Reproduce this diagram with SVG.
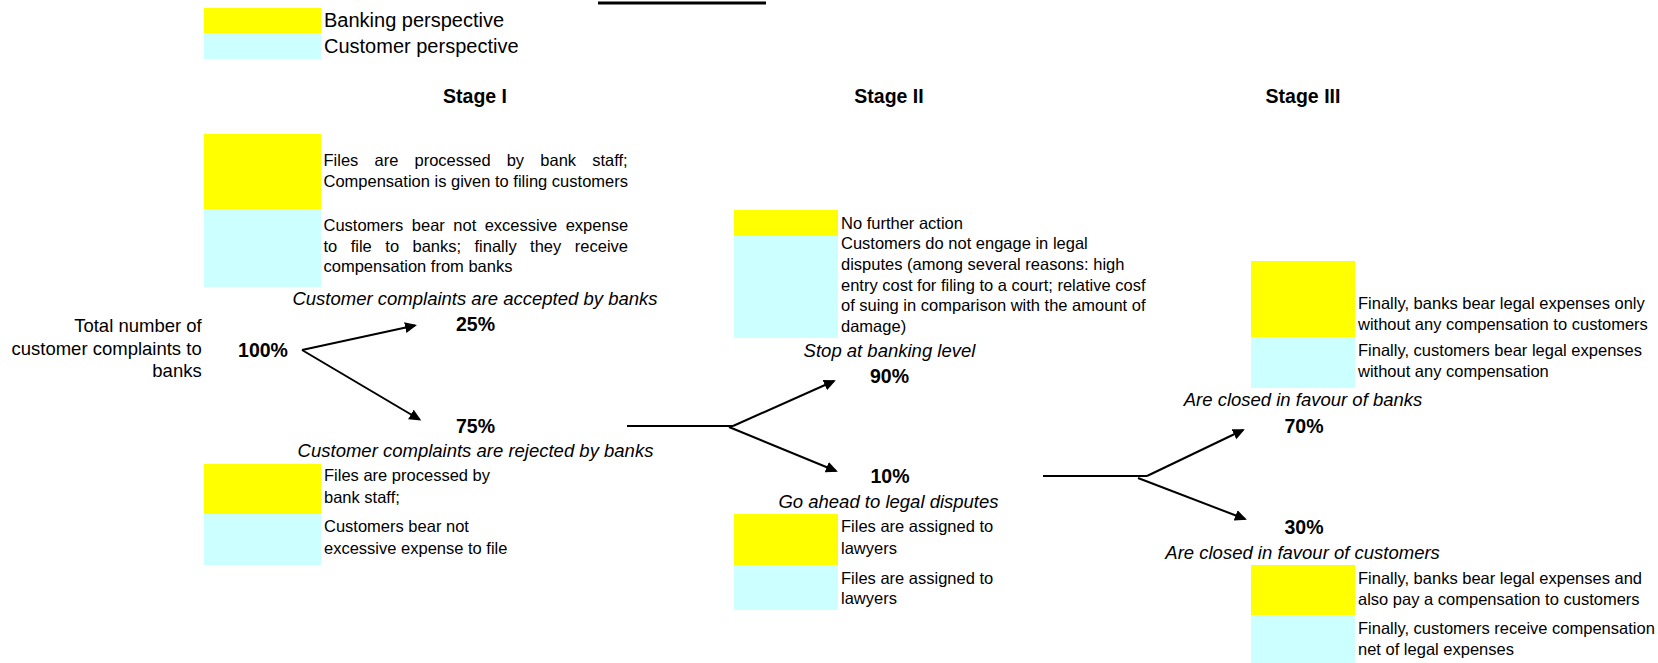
<svg xmlns="http://www.w3.org/2000/svg" width="1658" height="663" viewBox="0 0 1658 663">
<defs>
<style>
text{font-family:"Liberation Sans",Arial,sans-serif;fill:#000}
.t{font-size:16.5px}
.lg{font-size:20px}
.it{font-size:18.5px;font-style:italic;text-anchor:middle}
.b{font-size:19.5px;font-weight:bold;text-anchor:middle}
.y{fill:#FFFF00}
.c{fill:#CCFFFF}
.cn{stroke:#000;stroke-width:2;fill:none}
</style>
<marker id="ah" markerUnits="userSpaceOnUse" markerWidth="14" markerHeight="12" refX="10" refY="6" orient="auto">
<path d="M0,0.5 L12,6 L0,11.5 Z" fill="#000"/>
</marker>
</defs>
<rect width="1658" height="663" fill="#fff"/>
<line x1="598" y1="3" x2="766" y2="3" stroke="#000" stroke-width="3"/>
<g id="legend">
<rect class="y" x="204" y="8" width="117" height="25"/>
<rect class="c" x="204" y="33" width="117" height="26"/>
<text class="lg" x="324" y="27">Banking perspective</text>
<text class="lg" x="324" y="53">Customer perspective</text>
</g>
<g id="headers">
<text class="b" x="475" y="103">Stage I</text>
<text class="b" x="889" y="103">Stage II</text>
<text class="b" x="1303" y="103">Stage III</text>
</g>
<g id="connectors">
<line class="cn" x1="302" y1="350" x2="415" y2="325.5" marker-end="url(#ah)"/>
<line class="cn" x1="302" y1="350" x2="419.5" y2="419.5" marker-end="url(#ah)"/>
<line class="cn" x1="627" y1="426" x2="733" y2="426"/>
<line class="cn" x1="733" y1="426" x2="834" y2="381" marker-end="url(#ah)"/>
<line class="cn" x1="729" y1="427" x2="836" y2="471" marker-end="url(#ah)"/>
<line class="cn" x1="1043" y1="476" x2="1147" y2="476"/>
<line class="cn" x1="1147" y1="476" x2="1243" y2="430" marker-end="url(#ah)"/>
<line class="cn" x1="1138" y1="478" x2="1245" y2="519" marker-end="url(#ah)"/>
</g>
<g id="root">
<text x="201.7" y="332" style="font-size:18.5px;text-anchor:end">Total number of</text>
<text x="201.7" y="355" style="font-size:18.5px;text-anchor:end">customer complaints to</text>
<text x="201.7" y="377" style="font-size:18.5px;text-anchor:end">banks</text>
<text class="b" x="263" y="357">100%</text>
</g>
<g id="accepted">
<rect class="y" x="204" y="134" width="117" height="75"/>
<rect class="c" x="204" y="209" width="117" height="78"/>
<text class="t" y="166"><tspan x="323.5">Files</tspan><tspan x="374.5">are</tspan><tspan x="414.5">processed</tspan><tspan x="506.7">by</tspan><tspan x="540.3">bank</tspan><tspan x="592.2">staff;</tspan></text>
<text class="t" x="323.5" y="186.5">Compensation is given to filing customers</text>
<text class="t" y="231"><tspan x="323.5">Customers</tspan><tspan x="411.8">bear</tspan><tspan x="453.3">not</tspan><tspan x="484.7">excessive</tspan><tspan x="565.7">expense</tspan></text>
<text class="t" y="251.5"><tspan x="323.5">to</tspan><tspan x="350.7">file</tspan><tspan x="385.3">to</tspan><tspan x="412.5">banks;</tspan><tspan x="474.5">finally</tspan><tspan x="530.1">they</tspan><tspan x="574.8">receive</tspan></text>
<text class="t" x="323.5" y="272">compensation from banks</text>
<text class="it" x="475" y="305">Customer complaints are accepted by banks</text>
<text class="b" x="475.5" y="331">25%</text>
</g>
<g id="rejected">
<text class="b" x="475.5" y="433">75%</text>
<text class="it" x="475.5" y="457">Customer complaints are rejected by banks</text>
<rect class="y" x="204" y="464" width="117" height="50"/>
<rect class="c" x="204" y="514" width="117" height="51"/>
<text class="t" x="324" y="481">Files are processed by</text>
<text class="t" x="324" y="503">bank staff;</text>
<text class="t" x="324" y="532">Customers bear not</text>
<text class="t" x="324" y="554">excessive expense to file</text>
</g>
<g id="stop">
<rect class="y" x="734" y="210" width="104" height="26"/>
<rect class="c" x="734" y="236" width="104" height="102"/>
<text class="t" x="841" y="228.5">No further action</text>
<text class="t" x="841" y="249">Customers do not engage in legal</text>
<text class="t" x="841" y="270">disputes (among several reasons: high</text>
<text class="t" x="841" y="290.7">entry cost for filing to a court; relative cosf</text>
<text class="t" x="841" y="311.3">of suing in comparison with the amount of</text>
<text class="t" x="841" y="332">damage)</text>
<text class="it" x="889.5" y="357">Stop at banking level</text>
<text class="b" x="889.5" y="383">90%</text>
</g>
<g id="legal">
<text class="b" x="890" y="483">10%</text>
<text class="it" x="888.5" y="507.7">Go ahead to legal disputes</text>
<rect class="y" x="734" y="514" width="104" height="51"/>
<rect class="c" x="734" y="565" width="104" height="45"/>
<text class="t" x="841" y="532.3">Files are assigned to</text>
<text class="t" x="841" y="554">lawyers</text>
<text class="t" x="841" y="584">Files are assigned to</text>
<text class="t" x="841" y="604">lawyers</text>
</g>
<g id="banks">
<rect class="y" x="1251" y="261" width="104" height="76"/>
<rect class="c" x="1251" y="337" width="104" height="51"/>
<text class="t" x="1358" y="309">Finally, banks bear legal expenses only</text>
<text class="t" x="1358" y="330">without any compensation to customers</text>
<text class="t" x="1358" y="355.7">Finally, customers bear legal expenses</text>
<text class="t" x="1358" y="376.7">without any compensation</text>
<text class="it" x="1303" y="406">Are closed in favour of banks</text>
<text class="b" x="1304" y="433">70%</text>
</g>
<g id="customers">
<text class="b" x="1304" y="534">30%</text>
<text class="it" x="1302.6" y="558.7">Are closed in favour of customers</text>
<rect class="y" x="1251" y="565" width="104" height="50"/>
<rect class="c" x="1251" y="615" width="104" height="48"/>
<text class="t" x="1358" y="584">Finally, banks bear legal expenses and</text>
<text class="t" x="1358" y="605">also pay a compensation to customers</text>
<text class="t" x="1358" y="634">Finally, customers receive compensation</text>
<text class="t" x="1358" y="654.7">net of legal expenses</text>
</g>
</svg>
